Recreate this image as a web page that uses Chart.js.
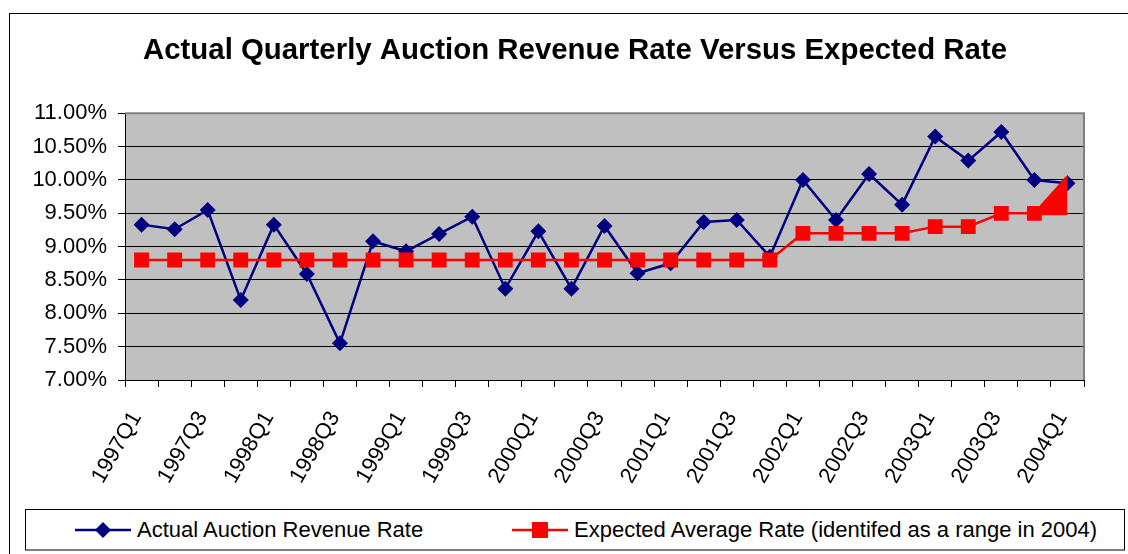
<!DOCTYPE html>
<html>
<head>
<meta charset="utf-8">
<script src="https://cdn.jsdelivr.net/npm/chart.js@4.4.1/dist/chart.umd.min.js"></script>
<style>
  html, body { margin: 0; padding: 0; background: #fff; overflow: hidden; }
  body { width: 1128px; height: 554px; position: relative; font-family: "Liberation Sans", Arial, sans-serif; }
  #frame { position: absolute; left: 9px; top: 13px; width: 1140px; height: 560px; border: 1px solid #000; }
  #chart { position: absolute; left: 0; top: 0; }
  #legend { position: absolute; left: 25px; top: 509px; width: 1100px; height: 42px; box-sizing: border-box;
            border: 1px solid #000; border-bottom: 2px solid #808080; background: #fff; }
  .item { position: absolute; top: 0; height: 40px; display: flex; align-items: center; font-size: 22px; color: #000; white-space: nowrap; }
  .item svg { margin-right: 6px; }
</style>
</head>
<body>
<div id="frame">
  <canvas id="chart" width="1130" height="490"></canvas>
</div>
<div id="legend">
  <div class="item" style="left:49px">
    <svg width="56" height="20"><line x1="0" y1="10" x2="56" y2="10" stroke="#000080" stroke-width="2.5"/><polygon points="28,2 36,10 28,18 20,10" fill="#000080"/></svg>Actual Auction Revenue Rate
  </div>
  <div class="item" style="left:486px">
    <svg width="56" height="20"><line x1="0" y1="10" x2="56" y2="10" stroke="#ff0000" stroke-width="2.5"/><rect x="20" y="2" width="16" height="16" fill="#ff0000"/></svg>Expected Average Rate (identifed as a range in 2004)
  </div>
</div>
<script>
const quarters = [
  '1997Q1', '1997Q2', '1997Q3', '1997Q4',
  '1998Q1', '1998Q2', '1998Q3', '1998Q4',
  '1999Q1', '1999Q2', '1999Q3', '1999Q4',
  '2000Q1', '2000Q2', '2000Q3', '2000Q4',
  '2001Q1', '2001Q2', '2001Q3', '2001Q4',
  '2002Q1', '2002Q2', '2002Q3', '2002Q4',
  '2003Q1', '2003Q2', '2003Q3', '2003Q4',
  '2004Q1'
];

// percent
const actualRate = [
  9.33, 9.26, 9.55, 8.20,
  9.33, 8.59, 7.55, 9.08,
  8.93, 9.19, 9.45, 8.37,
  9.23, 8.37, 9.31, 8.60,
  8.75, 9.37, 9.40, 8.85,
  10.00, 9.40, 10.09, 9.63,
  10.65, 10.29, 10.72, 10.00,
  9.95
];

const expectedRate = [
  8.8, 8.8, 8.8, 8.8,
  8.8, 8.8, 8.8, 8.8,
  8.8, 8.8, 8.8, 8.8,
  8.8, 8.8, 8.8, 8.8,
  8.8, 8.8, 8.8, 8.8,
  9.2, 9.2, 9.2, 9.2,
  9.3, 9.3, 9.5, 9.5,
  null
];

// 2004 range drawn as a filled wedge
const expectedRange = [
  null, null, null, null, null, null, null, null, null, null,
  null, null, null, null, null, null, null, null, null, null,
  null, null, null, null, null, null, null, 9.5, 10.05
];
const rangeFloor = 9.47;

const yMin = 7, yMax = 11, yStep = 0.5;

const plotBackground = {
  id: 'plotBackground',
  beforeDraw(chart) {
    const { ctx, chartArea: a } = chart;
    ctx.save();
    ctx.fillStyle = '#c0c0c0';
    ctx.fillRect(a.left, a.top, a.right - a.left, a.bottom - a.top);
    ctx.restore();
  },
  beforeDatasetsDraw(chart) {
    const { ctx, chartArea: a } = chart;
    ctx.save();
    ctx.strokeStyle = '#808080';
    ctx.lineWidth = 2;
    ctx.beginPath();
    ctx.moveTo(a.left, a.top);
    ctx.lineTo(a.right, a.top);
    ctx.lineTo(a.right, a.bottom);
    ctx.stroke();
    ctx.restore();
  }
};

const font = { family: '"Liberation Sans", Arial, sans-serif', size: 22 };

new Chart(document.getElementById('chart'), {
  type: 'line',
  data: {
    labels: quarters,
    datasets: [
      {
        label: 'Actual Auction Revenue Rate',
        data: actualRate,
        borderColor: '#000080',
        backgroundColor: '#000080',
        borderWidth: 2.5,
        pointStyle: 'rectRot',
        pointRadius: 8,
        pointBorderWidth: 0,
        tension: 0,
        order: 3
      },
      {
        label: 'Expected Average Rate (identifed as a range in 2004)',
        data: expectedRate,
        borderColor: '#ff0000',
        backgroundColor: '#ff0000',
        borderWidth: 2.5,
        pointStyle: 'rect',
        pointRadius: 10.5,
        pointBorderWidth: 0,
        tension: 0,
        order: 1
      },
      {
        label: 'range',
        data: expectedRange,
        borderColor: '#ff0000',
        backgroundColor: '#ff0000',
        borderWidth: 2.5,
        pointRadius: 0,
        fill: { value: rangeFloor },
        tension: 0,
        order: 2
      }
    ]
  },
  options: {
    responsive: false,
    animation: false,
    layout: { padding: 0 },
    plugins: {
      legend: { display: false },
      tooltip: { enabled: false },
      title: {
        display: true,
        text: 'Actual Quarterly Auction Revenue Rate Versus Expected Rate',
        color: '#000',
        font: { family: font.family, size: 29.4, weight: 'bold', lineHeight: 1.2 },
        padding: { top: 19, bottom: 45 }
      }
    },
    scales: {
      x: {
        offset: true,
        grid: { offset: true, drawOnChartArea: false, drawTicks: true, tickLength: 7, color: '#000' },
        border: { display: true, color: '#000', width: 1 },
        ticks: {
          autoSkip: false,
          maxRotation: 60,
          minRotation: 60,
          padding: 20,
          labelOffset: -5,
          color: '#000',
          font: font,
          callback: (v, i) => (i % 2 === 0 ? quarters[i] : '')
        },
        afterFit: s => { s.height = 124; }
      },
      y: {
        min: yMin,
        max: yMax,
        grid: { color: '#000', lineWidth: 1, tickLength: 7 },
        border: { display: true, color: '#000', width: 1 },
        ticks: {
          stepSize: yStep,
          padding: 11,
          color: '#000',
          font: font,
          callback: v => v.toFixed(2) + '%'
        },
        afterFit: s => { s.width = 115; }
      },
      // empty right margin so the title centres on the whole frame
      gap: {
        type: 'linear',
        position: 'right',
        grid: { display: false },
        border: { display: false },
        ticks: { display: false },
        afterFit: s => { s.width = 56; }
      }
    }
  },
  plugins: [plotBackground]
});
</script>
</body>
</html>
